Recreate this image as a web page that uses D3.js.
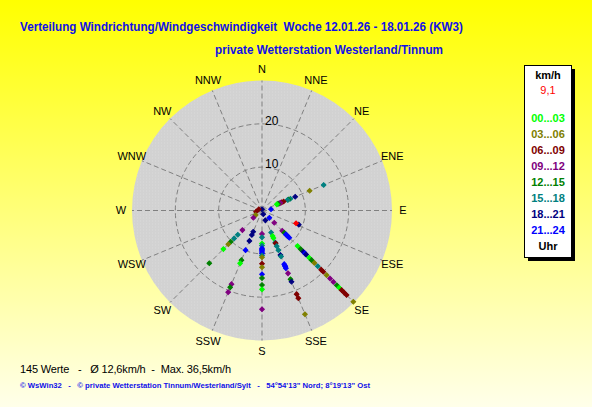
<!DOCTYPE html>
<html>
<head>
<meta charset="utf-8">
<script src="https://cdn.jsdelivr.net/npm/d3@7"></script>
<style>
  body { margin: 0; }
  svg { display: block; font-family: "Liberation Sans", Arial, sans-serif; }
</style>
</head>
<body>
<div id="chart"></div>
<script>
const width = 592;
const height = 407;

// Compass sectors and speed rings
const compass = ['N', 'NNE', 'NE', 'ENE', 'E', 'ESE', 'SE', 'SSE',
                 'S', 'SSW', 'SW', 'WSW', 'W', 'WNW', 'NW', 'NNW'];
const ringValues = [10, 20];
const maxSpeed = 30;

// Legend: hour classes and their colours
const hourLabels = ['00...03', '03...06', '06...09', '09...12',
                    '12...15', '15...18', '18...21', '21...24'];
const hourColors = ['#00ff00', '#808000', '#800000', '#800080',
                    '#008000', '#008080', '#000080', '#0000ff'];

// Readings: direction (deg), speed (km/h), hour class index
const readingDir = [
  67.5, 67.5, 67.5, 67.5, 67.5, 67.5, 67.5, 67.5, 67.5, 67.5, 67.5, 67.5,
  135, 135, 135, 135, 135, 135, 135, 135, 135, 135, 135, 135, 135, 135,
  135, 135, 135, 135, 135, 135, 135, 135, 135, 135, 135, 135, 135, 135,
  157.5, 157.5, 157.5, 157.5, 157.5, 157.5, 157.5, 157.5, 157.5, 157.5,
  157.5, 157.5, 157.5, 157.5, 157.5, 157.5, 157.5, 157.5, 157.5,
  180, 180, 180, 180, 180, 180, 180, 180, 180, 180, 180, 180, 180, 180,
  180, 180, 180, 180,
  202.5, 202.5, 202.5, 202.5, 202.5, 202.5, 202.5, 202.5, 202.5,
  225, 225, 225, 225, 225, 225, 225,
  111,
  0, 292, 259, 234, 230, 82, 161, 161
];
const readingSpeed = [
  15.4, 11.9, 8.3, 7.1, 6.6, 6.4, 5.4, 4.9, 4.6, 4.3, 4.0, 3.7,
  4.0, 2.4, 6.6, 7.3, 7.8, 8.1, 8.4, 8.9, 11.6, 12.6, 13.5, 14.0,
  14.4, 15.4, 16.2, 17.1, 18.2, 19.3, 20.0, 21.1, 22.2, 23.3, 24.4, 25.2,
  26.0, 26.8, 27.6, 29.8,
  5.5, 6.4, 6.9, 8.0, 8.2, 8.9, 9.9, 11.1, 11.5, 13.4,
  13.8, 14.0, 14.4, 15.7, 17.2, 17.8, 20.9, 21.9, 25.9,
  5.4, 6.2, 7.6, 8.1, 8.7, 9.0, 9.3, 9.6, 9.9, 10.4, 10.8, 12.3, 13.1, 14.7,
  15.6, 17.2, 18.2, 22.8,
  5.3, 6.1, 7.6, 9.9, 12.4, 13.2, 18.4, 19.2, 20.4,
  6.4, 7.9, 9.1, 10.2, 11.0, 12.6, 17.2,
  9.1,
  0.3, 0.8, 1.4, 1.8, 2.6, 2.1, 0.9, 2.4
];
const readingHour = [
  5, 1, 6, 5, 4, 5, 2, 2, 3, 3, 4, 0,
  3, 7, 3, 4, 7, 7, 7, 7, 0, 4, 6, 7,
  6, 0, 4, 1, 5, 2, 2, 1, 3, 3, 4, 0,
  2, 2, 2, 1,
  5, 0, 0, 5, 2, 5, 5, 6, 5, 7,
  7, 7, 7, 3, 4, 6, 2, 2, 1,
  3, 5, 0, 5, 7, 7, 7, 7, 7, 5, 1, 2, 1, 7,
  4, 4, 0, 3,
  6, 6, 6, 7, 4, 0, 3, 4, 3,
  3, 5, 5, 4, 1, 0, 4,
  6,
  6, 2, 2, 1, 3, 7, 6, 6
];

// Latest reading (shown in red)
const currentDir = 110.6;
const currentSpeed = 8.4;
const currentLabel = '9,1';

const titleText = 'Verteilung Windrichtung/Windgeschwindigkeit  Woche 12.01.26 - 18.01.26 (KW3)';
const subtitleText = 'private Wetterstation Westerland/Tinnum';
const statsText = '145 Werte   -   \u00d8 12,6km/h  -  Max. 36,5km/h';
const footerText = '\u00a9 WsWin32   -   \u00a9 private Wetterstation Tinnum/Westerland/Sylt   -   54\u00b054\'13" Nord; 8\u00b019\'13" Ost';

const cx = 262;
const cy = 210.5;
const outerR = 130;

const svg = d3.select('#chart')
  .append('svg')
  .attr('width', width)
  .attr('height', height);

const defs = svg.append('defs');
const grad = defs.append('linearGradient')
  .attr('id', 'bg')
  .attr('x1', 0).attr('y1', 0).attr('x2', 0).attr('y2', 1);
grad.append('stop').attr('offset', '0%').attr('stop-color', '#ffff00');
grad.append('stop').attr('offset', '100%').attr('stop-color', '#ffffea');

// light stipple on the grey disc
const pat = defs.append('pattern')
  .attr('id', 'stipple')
  .attr('width', 3).attr('height', 3)
  .attr('patternUnits', 'userSpaceOnUse');
pat.append('rect').attr('width', 3).attr('height', 3).attr('fill', '#d2d2d2');
pat.append('rect').attr('x', 1).attr('y', 1).attr('width', 1).attr('height', 1).attr('fill', '#dadada');

svg.append('rect')
  .attr('width', width)
  .attr('height', height)
  .attr('fill', 'url(#bg)');

// Titles
svg.append('text')
  .attr('x', 20).attr('y', 31)
  .attr('fill', '#1010e8')
  .attr('font-weight', 'bold')
  .attr('font-size', 13)
  .attr('textLength', 443)
  .attr('lengthAdjust', 'spacingAndGlyphs')
  .style('white-space', 'pre')
  .text(titleText);

svg.append('text')
  .attr('x', 215).attr('y', 54)
  .attr('fill', '#1010e8')
  .attr('font-weight', 'bold')
  .attr('font-size', 13)
  .attr('textLength', 228)
  .attr('lengthAdjust', 'spacingAndGlyphs')
  .text(subtitleText);

// Polar plot
const rScale = d3.scaleLinear().domain([0, maxSpeed]).range([0, outerR]);
const angle = deg => deg * Math.PI / 180;

const plot = svg.append('g')
  .attr('transform', 'translate(' + cx + ',' + cy + ')');

plot.append('circle')
  .attr('r', rScale(maxSpeed))
  .attr('fill', 'url(#stipple)');

// Spokes
plot.selectAll('.spoke')
  .data(compass)
  .enter()
  .append('line')
  .attr('class', 'spoke')
  .attr('x1', 0).attr('y1', 0)
  .attr('x2', (d, i) => d3.pointRadial(angle(i * 22.5), rScale(maxSpeed))[0])
  .attr('y2', (d, i) => d3.pointRadial(angle(i * 22.5), rScale(maxSpeed))[1])
  .attr('stroke', '#808080')
  .attr('stroke-dasharray', '5,3');

// Rings
plot.selectAll('.ring')
  .data(ringValues)
  .enter()
  .append('circle')
  .attr('class', 'ring')
  .attr('r', d => rScale(d))
  .attr('fill', 'none')
  .attr('stroke', '#808080')
  .attr('stroke-dasharray', '5,3');

plot.selectAll('.ring-label')
  .data(ringValues)
  .enter()
  .append('text')
  .attr('class', 'ring-label')
  .attr('x', 3)
  .attr('y', d => -rScale(d) - 3)
  .attr('dy', '0.35em')
  .attr('font-size', 12)
  .attr('fill', '#000')
  .text(d => d);

// Compass labels
plot.selectAll('.dir-label')
  .data(compass)
  .enter()
  .append('text')
  .attr('class', 'dir-label')
  .attr('x', (d, i) => d3.pointRadial(angle(i * 22.5), rScale(maxSpeed) + 11)[0])
  .attr('y', (d, i) => d3.pointRadial(angle(i * 22.5), rScale(maxSpeed) + 11)[1])
  .attr('dy', '0.35em')
  .attr('text-anchor', 'middle')
  .attr('font-size', 11)
  .attr('fill', '#000')
  .text(d => d);

// Readings
const marker = d3.symbol().type(d3.symbolSquare).size(11);
const readings = readingDir.map((d, i) => ({dir: d, speed: readingSpeed[i], hour: readingHour[i]}));

plot.selectAll('.point')
  .data(readings)
  .enter()
  .append('path')
  .attr('class', 'point')
  .attr('d', marker)
  .attr('transform', d => {
    const p = d3.pointRadial(angle(d.dir), rScale(d.speed));
    return 'translate(' + p[0] + ',' + p[1] + ') rotate(45)';
  })
  .attr('fill', d => hourColors[d.hour])
  .attr('stroke', d => hourColors[d.hour])
  .attr('stroke-width', 1);

const cur = d3.pointRadial(angle(currentDir), rScale(currentSpeed));
plot.append('path')
  .attr('d', marker)
  .attr('transform', 'translate(' + cur[0] + ',' + cur[1] + ') rotate(45)')
  .attr('fill', '#ff0000')
  .attr('stroke', '#ff0000');

// Legend
const lx = 524, ly = 65, lw = 47, lh = 192;
svg.append('rect')
  .attr('x', lx + 4).attr('y', ly + 4)
  .attr('width', lw).attr('height', lh)
  .attr('fill', '#000');
svg.append('rect')
  .attr('x', lx + 0.5).attr('y', ly + 0.5)
  .attr('width', lw).attr('height', lh)
  .attr('fill', '#fff')
  .attr('stroke', '#000');

const legendX = lx + lw / 2 + 0.5;
svg.append('text')
  .attr('x', legendX).attr('y', 79)
  .attr('text-anchor', 'middle')
  .attr('font-weight', 'bold')
  .attr('font-size', 11)
  .text('km/h');
svg.append('text')
  .attr('x', legendX).attr('y', 94)
  .attr('text-anchor', 'middle')
  .attr('font-size', 11)
  .attr('fill', '#ff0000')
  .text(currentLabel);

svg.selectAll('.legend-item')
  .data(hourLabels)
  .enter()
  .append('text')
  .attr('class', 'legend-item')
  .attr('x', legendX)
  .attr('y', (d, i) => 121.5 + i * 16)
  .attr('text-anchor', 'middle')
  .attr('font-weight', 'bold')
  .attr('font-size', 11)
  .attr('fill', (d, i) => hourColors[i])
  .text(d => d);

svg.append('text')
  .attr('x', legendX).attr('y', 250)
  .attr('text-anchor', 'middle')
  .attr('font-weight', 'bold')
  .attr('font-size', 11)
  .text('Uhr');

// Footer
svg.append('text')
  .attr('x', 20).attr('y', 373)
  .attr('font-size', 11)
  .attr('fill', '#000')
  .attr('textLength', 211)
  .attr('lengthAdjust', 'spacing')
  .style('white-space', 'pre')
  .text(statsText);

svg.append('text')
  .attr('x', 20).attr('y', 388)
  .attr('font-size', 8)
  .attr('font-weight', 'bold')
  .attr('fill', '#1010e8')
  .attr('textLength', 350)
  .attr('lengthAdjust', 'spacingAndGlyphs')
  .style('white-space', 'pre')
  .text(footerText);
</script>
</body>
</html>
